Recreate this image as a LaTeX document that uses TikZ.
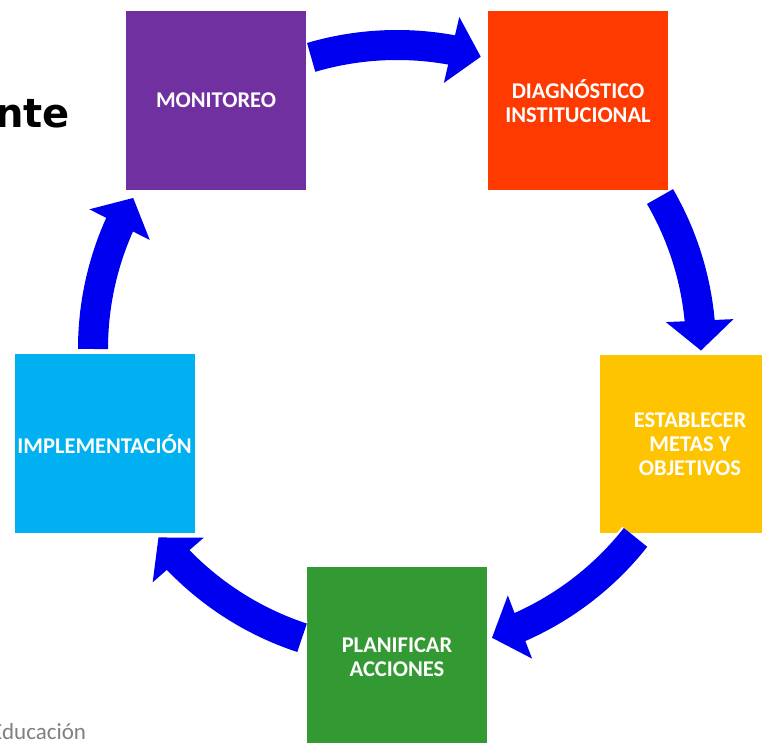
\documentclass[tikz,border=0pt]{standalone}
\usepackage{fontspec}
\setmainfont{Carlito}
\newfontfamily\titlefont{DejaVu Sans}
\usetikzlibrary{arrows.meta,bending}
\definecolor{monpurple}{HTML}{7030A0}
\definecolor{diagred}{HTML}{FF3A00}
\definecolor{estyellow}{HTML}{FFC400}
\definecolor{plangreen}{HTML}{339933}
\definecolor{implblue}{HTML}{00B0F0}
\definecolor{arrblue}{HTML}{0000F0}
\definecolor{notegray}{HTML}{808080}
\begin{document}
\begin{tikzpicture}[x=1pt,y=1pt,
  stagebox/.style={rectangle, minimum width=180pt, minimum height=179pt,
    inner sep=0pt, outer sep=0pt, text=white, align=center,
    font=\bfseries\fontsize{22.5}{24}\selectfont},
  cyclearrow/.style={draw=arrblue, line width=30pt,
    -{Triangle[length=30pt,width=66pt,flex]},
    preaction={draw=white, line width=34pt, -{Triangle[length=33pt,width=73pt,flex]}}}
]
\useasboundingbox (0,0) rectangle (762,743);
\clip (0,0) rectangle (762,743);
\fill[white] (0,0) rectangle (762,743);

% stages
\node[stagebox, fill=monpurple] (mon) at (216,642.5) {MONITOREO};
\node[stagebox, fill=diagred] (diag) at (578,642) {DIAGNÓSTICO\\INSTITUCIONAL};
\node[stagebox, fill=estyellow, minimum height=178pt] (est) at (690,299) {ESTABLECER\\METAS Y\\OBJETIVOS};
\node[stagebox, fill=plangreen] (plan) at (397,86) {PLANIFICAR\\ACCIONES};
\node[stagebox, fill=implblue] (impl) at (104.5,299) {IMPLEMENTACIÓN};

% cycle centre and arrow starts
\coordinate (c) at (397,394);
\coordinate (s1) at ([shift={(106.4:304)}]c);
\coordinate (s2) at ([shift={(30.1:304)}]c);
\coordinate (s3) at ([shift={(-38.3:304)}]c);
\coordinate (s4) at ([shift={(-108.2:304)}]c);
\coordinate (s5) at ([shift={(180:304)}]c);

\draw[cyclearrow] (s1) arc[start angle=106.4, end angle=74, radius=304];
\draw[cyclearrow] (s2) arc[start angle=30.1, end angle=-0.3, radius=304];
\draw[cyclearrow] (s3) arc[start angle=-38.3, end angle=-71.8, radius=304];
\draw[cyclearrow] (s4) arc[start angle=-108.2, end angle=-141.7, radius=304];
\draw[cyclearrow] (s5) arc[start angle=180, end angle=150.2, radius=304];

% texts
\node[anchor=base east, inner sep=0pt, font=\titlefont\bfseries\fontsize{40}{40}\selectfont] (title) at (70,615) {nte};
\node[anchor=base west, inner sep=0pt, text=notegray, font=\fontsize{23}{23}\selectfont] (src) at (-9,3) {Educación};
\end{tikzpicture}
\end{document}
